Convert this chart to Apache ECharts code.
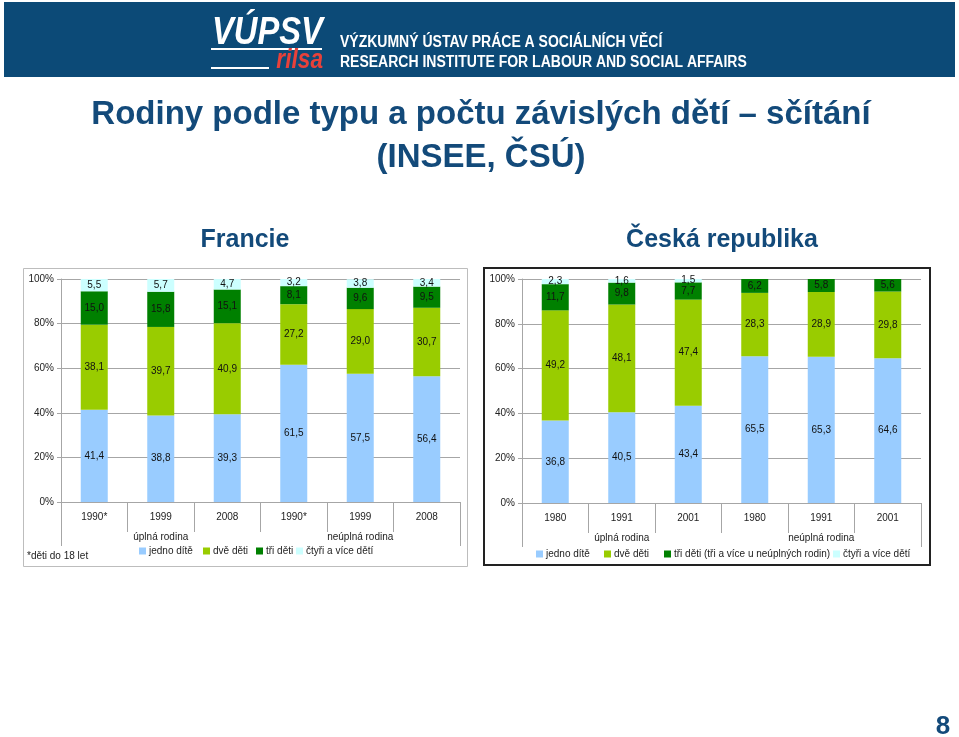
<!DOCTYPE html>
<html>
<head>
<meta charset="utf-8">
<script src="https://cdn.jsdelivr.net/npm/echarts@6/dist/echarts.min.js"></script>
<style>
html,body{margin:0;padding:0;background:#fff;}
#c{width:959px;height:737px;}
</style>
</head>
<body>
<div id="c"></div>
<script>
// ---- data ----
var seriesNamesFR = ['jedno dítě', 'dvě děti', 'tři děti', 'čtyři a více dětí'];
var seriesNamesCZ = ['jedno dítě', 'dvě děti', 'tři děti (tři a více u neúplných rodin)', 'čtyři a více dětí'];
var groupNames = ['úplná rodina', 'neúplná rodina'];
var yTicks = [0, 20, 40, 60, 80, 100];

var catFR = ['1990*', '1999', '2008', '1990*', '1999', '2008'];
var frJedno = [41.4, 38.8, 39.3, 61.5, 57.5, 56.4];
var frDve = [38.1, 39.7, 40.9, 27.2, 29.0, 30.7];
var frTri = [15.0, 15.8, 15.1, 8.1, 9.6, 9.5];
var frCtyri = [5.5, 5.7, 4.7, 3.2, 3.8, 3.4];

var catCZ = ['1980', '1991', '2001', '1980', '1991', '2001'];
var czJedno = [36.8, 40.5, 43.4, 65.5, 65.3, 64.6];
var czDve = [49.2, 48.1, 47.4, 28.3, 28.9, 29.8];
var czTri = [11.7, 9.8, 7.7, 6.2, 5.8, 5.6];
var czCtyri = [2.3, 1.6, 1.5, null, null, null];

var colors = ['#99CCFF', '#99CC00', '#008000', '#CCFFFF'];

// ---- chart ----
var FONT = 'Liberation Sans, Arial, sans-serif';
var DARK = '#134a7a';
var chart = echarts.init(document.getElementById('c'), null, {renderer: 'canvas'});

function fmt(p) {
  if (p.value == null) return '';
  return p.value.toFixed(1).replace('.', ',');
}

function catAxis(grid, cats) {
  return {
    type: 'category', gridIndex: grid, data: cats, position: 'bottom',
    axisLine: {show: true, lineStyle: {color: '#a6a6a6', width: 1}},
    axisTick: {show: true, alignWithLabel: false, length: 30, lineStyle: {color: '#a6a6a6'}},
    axisLabel: {color: '#222', fontSize: 10, fontFamily: FONT, margin: 10, interval: 0}
  };
}
function groupAxis(grid) {
  return {
    type: 'category', gridIndex: grid, data: groupNames, position: 'bottom',
    axisLine: {show: false}, axisTick: {show: false},
    axisLabel: {color: '#222', fontSize: 10, fontFamily: FONT, margin: 30, interval: 0}
  };
}
function endAxis(grid) {
  return {
    type: 'value', gridIndex: grid, min: 0, max: 1, interval: 1, position: 'bottom', offset: 30,
    axisLine: {show: false}, splitLine: {show: false}, axisLabel: {show: false},
    axisTick: {show: true, length: 14, lineStyle: {color: '#a6a6a6'}}
  };
}
function valAxis(grid) {
  return {
    type: 'value', gridIndex: grid, min: 0, max: 100, interval: 20,
    axisLine: {show: true, lineStyle: {color: '#a6a6a6'}},
    axisTick: {show: true, length: 4, lineStyle: {color: '#a6a6a6'}},
    splitLine: {show: true, lineStyle: {color: '#a6a6a6', width: 1}},
    axisLabel: {color: '#222', fontSize: 10, fontFamily: FONT, margin: 7, formatter: '{value}%'}
  };
}
function bars(names, arrs, xi, yi, stack) {
  return arrs.map(function (d, i) {
    return {
      type: 'bar', name: names[i], data: d, stack: stack, xAxisIndex: xi, yAxisIndex: yi,
      barWidth: 27, itemStyle: {color: colors[i]},
      label: {show: true, position: 'inside', formatter: fmt, color: '#111', fontSize: 10, fontFamily: FONT},
      emphasis: {disabled: true}, animation: false
    };
  });
}
function legendItem(name, left, top) {
  return {
    data: [name], left: left, top: top, orient: 'horizontal', icon: 'rect',
    itemWidth: 7, itemHeight: 7, itemGap: 0, padding: 0,
    textStyle: {color: '#222', fontSize: 10, fontFamily: FONT, padding: [0, 0, 0, -2]},
    selectedMode: false
  };
}

var HFONT = '"Liberation Sans", Arial';
var option = {
  animation: false,
  backgroundColor: '#fff',
  grid: [
    {left: 61, top: 279, width: 399, height: 223, containLabel: false},
    {left: 522, top: 279, width: 399, height: 224, containLabel: false}
  ],
  xAxis: [catAxis(0, catFR), groupAxis(0), endAxis(0), catAxis(1, catCZ), groupAxis(1), endAxis(1)],
  yAxis: [valAxis(0), valAxis(1)],
  legend: [
    legendItem(seriesNamesFR[0], 139, 546),
    legendItem(seriesNamesFR[1], 203, 546),
    legendItem(seriesNamesFR[2], 256, 546),
    legendItem(seriesNamesFR[3], 296, 546),
    legendItem(seriesNamesCZ[0], 536, 549),
    legendItem(seriesNamesCZ[1], 604, 549),
    legendItem(seriesNamesCZ[2], 664, 549),
    legendItem(seriesNamesCZ[3], 833, 549)
  ],
  series: [].concat(
    bars(seriesNamesFR, [frJedno, frDve, frTri, frCtyri], 0, 0, 'fr'),
    bars(seriesNamesCZ, [czJedno, czDve, czTri, czCtyri], 3, 1, 'cz')
  ),
  graphic: [
    // header band
    {type: 'rect', z: -1, shape: {x: 4, y: 2, width: 951, height: 75}, style: {fill: '#0c4a77'}},
    {type: 'text', x: 212, y: 15, scaleX: 0.86, style: {text: 'VÚPSV', fill: '#fff', font: 'italic bold 38px ' + HFONT}},
    {type: 'rect', shape: {x: 211, y: 48, width: 111, height: 2}, style: {fill: '#fff'}},
    {type: 'rect', shape: {x: 211, y: 67, width: 58, height: 2}, style: {fill: '#fff'}},
    {type: 'text', x: 323, y: 47, scaleX: 0.84, style: {text: 'rilsa', align: 'right', fill: '#e8413a', font: 'italic bold 27px ' + HFONT}},
    {type: 'text', x: 340, y: 35, scaleX: 0.875, style: {text: 'VÝZKUMNÝ ÚSTAV PRÁCE A SOCIÁLNÍCH VĚCÍ', fill: '#fff', font: 'bold 16px ' + HFONT}},
    {type: 'text', x: 340, y: 55, scaleX: 0.875, style: {text: 'RESEARCH INSTITUTE FOR LABOUR AND SOCIAL AFFAIRS', fill: '#fff', font: 'bold 16px ' + HFONT}},
    // titles
    {type: 'text', x: 481, y: 115, style: {text: 'Rodiny podle typu a počtu závislých dětí – sčítání', fill: DARK, align: 'center', verticalAlign: 'middle', font: 'bold 33px ' + HFONT}},
    {type: 'text', x: 481, y: 158, style: {text: '(INSEE, ČSÚ)', fill: DARK, align: 'center', verticalAlign: 'middle', font: 'bold 33px ' + HFONT}},
    {type: 'text', x: 245, y: 240, style: {text: 'Francie', fill: DARK, align: 'center', verticalAlign: 'middle', font: 'bold 25px ' + HFONT}},
    {type: 'text', x: 722, y: 240, style: {text: 'Česká republika', fill: DARK, align: 'center', verticalAlign: 'middle', font: 'bold 25px ' + HFONT}},
    // chart boxes
    {type: 'rect', z: -1, shape: {x: 23.5, y: 268.5, width: 444, height: 298}, style: {fill: 'none', stroke: '#bdbdbd', lineWidth: 1}},
    {type: 'rect', z: -1, shape: {x: 484, y: 268, width: 446, height: 297}, style: {fill: 'none', stroke: '#222', lineWidth: 2}},
    {type: 'text', x: 27, y: 556, style: {text: '*děti do 18 let', fill: '#222', verticalAlign: 'middle', font: '10px ' + HFONT}},
    // page number
    {type: 'text', x: 943, y: 727, style: {text: '8', fill: DARK, align: 'center', verticalAlign: 'middle', font: 'bold 26px ' + HFONT}}
  ]
};
chart.setOption(option);
</script>
</body>
</html>
